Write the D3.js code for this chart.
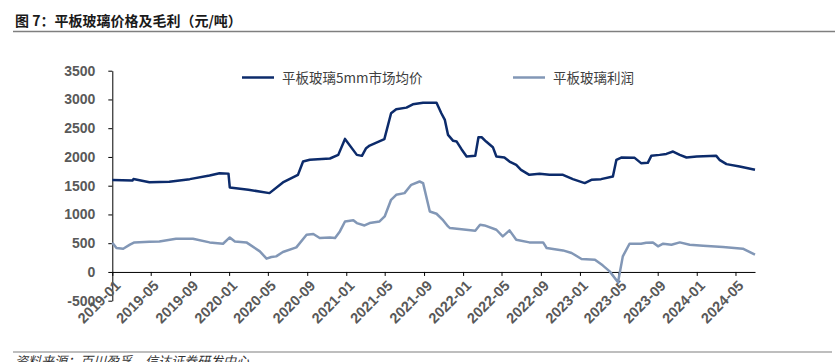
<!DOCTYPE html>
<html>
<head>
<meta charset="utf-8">
<script src="https://cdn.jsdelivr.net/npm/d3@7"></script>
<style>
  body { margin: 0; background: #fff; }
  svg { display: block; }
</style>
</head>
<body>
<svg id="chart" width="835" height="362"></svg>
<script>
// Dáta -------------------------------------------------------------
const priceDates = ["2019-01-01","2019-03-05","2019-03-08","2019-04-27","2019-06-28","2019-08-31","2019-11-01","2019-12-02","2019-12-30","2020-01-03","2020-03-01","2020-05-06","2020-06-17","2020-08-03","2020-08-19","2020-09-09","2020-11-11","2020-12-07","2020-12-28","2021-02-03","2021-02-19","2021-03-04","2021-03-15","2021-04-30","2021-05-21","2021-06-06","2021-07-08","2021-07-28","2021-08-29","2021-10-10","2021-10-25","2021-11-05","2021-11-15","2021-12-01","2021-12-12","2021-12-27","2022-01-12","2022-02-08","2022-02-18","2022-02-28","2022-03-14","2022-04-04","2022-04-15","2022-05-10","2022-05-26","2022-06-16","2022-07-01","2022-07-27","2022-08-28","2022-09-28","2022-11-09","2022-12-10","2023-01-16","2023-02-06","2023-03-08","2023-04-14","2023-04-25","2023-05-10","2023-06-21","2023-07-11","2023-08-01","2023-08-12","2023-09-07","2023-09-28","2023-10-19","2023-11-09","2023-11-30","2024-01-01","2024-03-02","2024-03-12","2024-04-03","2024-05-14","2024-07-01"];
const priceValues = [1600,1590,1615,1560,1567,1614,1677,1718,1710,1469,1430,1371,1556,1689,1920,1950,1973,2036,2314,2036,2019,2152,2198,2309,2760,2829,2858,2916,2944,2944,2760,2644,2383,2280,2268,2135,2007,2019,2343,2343,2268,2170,2007,1990,1920,1862,1776,1689,1706,1689,1689,1614,1545,1602,1614,1660,1950,1990,1984,1892,1898,2019,2036,2053,2094,2036,1990,2007,2019,1950,1875,1834,1776];

const profitDates = ["2019-01-01","2019-01-14","2019-02-04","2019-02-25","2019-03-11","2019-04-27","2019-05-28","2019-07-19","2019-09-10","2019-11-01","2019-12-13","2020-01-03","2020-01-19","2020-02-24","2020-04-06","2020-04-27","2020-05-12","2020-05-27","2020-06-17","2020-07-29","2020-08-30","2020-09-20","2020-10-10","2020-11-11","2020-11-27","2020-12-12","2020-12-28","2021-01-23","2021-02-03","2021-02-27","2021-03-15","2021-04-15","2021-05-01","2021-05-21","2021-06-06","2021-07-02","2021-07-23","2021-08-18","2021-08-29","2021-09-19","2021-10-10","2021-10-31","2021-11-15","2021-11-21","2022-02-08","2022-02-23","2022-03-09","2022-04-15","2022-05-05","2022-05-26","2022-06-16","2022-07-27","2022-09-08","2022-09-19","2022-11-09","2022-12-06","2023-01-06","2023-02-17","2023-03-13","2023-04-04","2023-04-30","2023-05-15","2023-06-05","2023-07-11","2023-07-27","2023-08-17","2023-09-02","2023-09-18","2023-10-14","2023-11-09","2023-12-10","2024-01-21","2024-03-23","2024-05-24","2024-07-01"];
const profitValues = [509,416,404,474,514,526,531,578,578,514,491,600,531,514,358,231,260,271,347,427,648,660,590,600,590,705,878,900,850,809,850,878,965,1255,1342,1371,1515,1573,1545,1052,1012,896,792,763,717,821,809,734,618,723,561,514,514,416,375,330,226,214,115,10,-180,271,491,491,509,514,445,491,474,514,474,457,434,404,300];

const yTicks = [-500,0,500,1000,1500,2000,2500,3000,3500];
const seriesNames = ["平板玻璃5mm市场均价", "平板玻璃利润"];
const seriesColors = ["#0c2b6b", "#8297b6"];

// Rozmery ----------------------------------------------------------
const svg = d3.select("#chart");
const x0 = 112.3, x1 = 755, yTop = 70.7, yBot = 300.7;
const parse = d3.timeParse("%Y-%m-%d");

const x = d3.scaleTime()
    .domain([parse("2019-01-01"), parse("2024-07-01")])
    .range([x0, x1]);
const y = d3.scaleLinear().domain([-500, 3500]).range([yBot, yTop]);

// Titulok
svg.append("text")
    .attr("x", 15).attr("y", 26)
    .attr("font-family", "'Noto Sans CJK SC', sans-serif")
    .attr("font-size", 14).attr("font-weight", "bold")
    .attr("fill", "#1a1a1a")
    .text("图 7：平板玻璃价格及毛利（元/吨）");
svg.append("line")
    .attr("x1", 13).attr("x2", 835).attr("y1", 31.5).attr("y2", 31.5)
    .attr("stroke", "#7f7f7f").attr("stroke-width", 1.5);

// Os Y
const yAxis = svg.append("g")
    .attr("transform", `translate(${x0},0)`)
    .call(d3.axisLeft(y).tickValues(yTicks).tickFormat(d => String(d))
        .tickSize(4).tickPadding(13).tickSizeOuter(0));
yAxis.select(".domain").attr("stroke", "#000");
yAxis.selectAll(".tick line").attr("stroke", "#000");
yAxis.selectAll("text")
    .attr("font-family", "'Liberation Sans', Arial, sans-serif")
    .attr("font-size", 14).attr("font-weight", "bold").attr("fill", "#595959");

// Os X (na nule)
const xTicks = d3.timeMonth.every(4).range(parse("2019-01-01"), parse("2024-06-01"));
const xAxis = svg.append("g")
    .attr("transform", `translate(0,${y(0)})`)
    .call(d3.axisBottom(x).tickValues(xTicks).tickFormat(d3.timeFormat("%Y-%m")).tickSize(4).tickSizeOuter(0));
xAxis.select(".domain").attr("stroke", "#000");
xAxis.selectAll(".tick line").attr("stroke", "#000");
xAxis.selectAll("text")
    .attr("x", 0).attr("y", 0).attr("dy", "0.35em")
    .attr("transform", "translate(5,11) rotate(-45)")
    .attr("text-anchor", "end")
    .attr("font-family", "'Liberation Sans', Arial, sans-serif")
    .attr("font-size", 14.5).attr("font-weight", "bold").attr("fill", "#595959");

// Čiary
const line = d3.line().x(d => x(d.date)).y(d => y(d.value));
const priceData = priceDates.map((d, i) => ({ date: parse(d), value: priceValues[i] }));
const profitData = profitDates.map((d, i) => ({ date: parse(d), value: profitValues[i] }));

svg.append("path").datum(profitData)
    .attr("d", line).attr("fill", "none")
    .attr("stroke", seriesColors[1]).attr("stroke-width", 2.5).attr("stroke-linejoin", "round");
svg.append("path").datum(priceData)
    .attr("d", line).attr("fill", "none")
    .attr("stroke", seriesColors[0]).attr("stroke-width", 2.5).attr("stroke-linejoin", "round");

// Legenda
const legendX = [242, 513];
seriesNames.forEach((name, i) => {
    svg.append("line")
        .attr("x1", legendX[i]).attr("x2", legendX[i] + 32)
        .attr("y1", 77.5).attr("y2", 77.5)
        .attr("stroke", seriesColors[i]).attr("stroke-width", 2.5);
    svg.append("text")
        .attr("x", legendX[i] + 40).attr("y", 82.5)
        .attr("font-family", "'Noto Sans CJK SC', sans-serif")
        .attr("font-size", 13.5).attr("fill", "#404040")
        .text(name);
});

// Zdroj
svg.append("line")
    .attr("x1", 13).attr("x2", 832).attr("y1", 352).attr("y2", 352)
    .attr("stroke", "#7f7f7f").attr("stroke-width", 1.2);
svg.append("text")
    .attr("x", 15).attr("y", 366)
    .attr("font-family", "'Noto Sans CJK SC', sans-serif")
    .attr("font-size", 13).attr("font-style", "italic").attr("fill", "#333")
    .text("资料来源：百川盈孚，信达证券研发中心");
</script>
</body>
</html>
